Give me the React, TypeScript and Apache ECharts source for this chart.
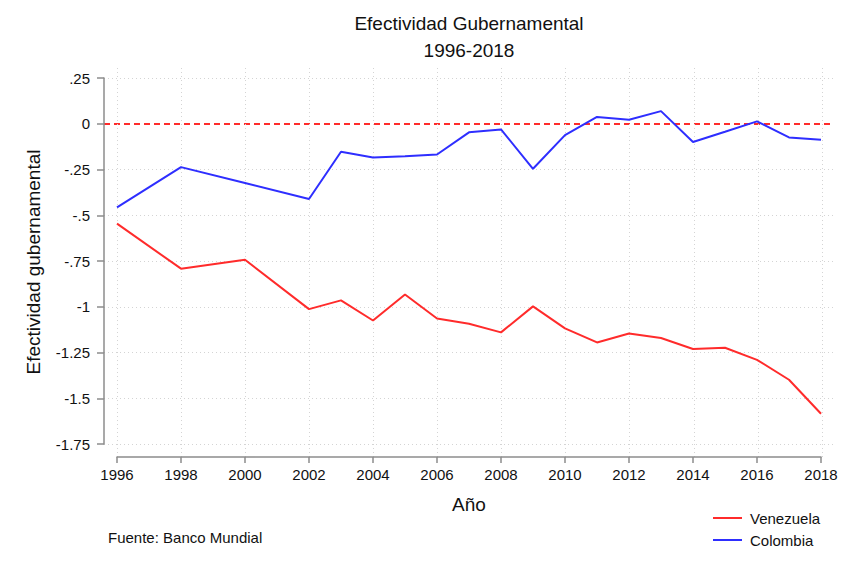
import React, { useEffect, useRef } from 'react';
import * as echarts from 'echarts';

const years = [1996, 1998, 2000, 2002, 2003, 2004, 2005, 2006, 2007, 2008, 2009, 2010, 2011, 2012, 2013, 2014, 2015, 2016, 2017, 2018];
const venezuela = [-0.546, -0.792, -0.743, -1.013, -0.965, -1.075, -0.933, -1.064, -1.093, -1.14, -0.998, -1.118, -1.195, -1.146, -1.171, -1.231, -1.224, -1.29, -1.399, -1.585];
const colombia = [-0.457, -0.237, -0.324, -0.411, -0.153, -0.184, -0.178, -0.168, -0.047, -0.031, -0.246, -0.062, 0.037, 0.022, 0.069, -0.1, -0.044, 0.013, -0.075, -0.087];
const xTicks = [1996, 1998, 2000, 2002, 2004, 2006, 2008, 2010, 2012, 2014, 2016, 2018];
const yTicks = [0.25, 0, -0.25, -0.5, -0.75, -1, -1.25, -1.5, -1.75];
const yTickLabels = ['.25', '0', '-.25', '-.5', '-.75', '-1', '-1.25', '-1.5', '-1.75'];
const seriesNames = ['Venezuela', 'Colombia'];
const titleLines = ['Efectividad Gubernamental', '1996-2018'];

const FONT = '"Liberation Sans", Arial, Helvetica, sans-serif';

export default function App() {
  const ref = useRef<HTMLDivElement>(null);
  useEffect(() => {
    if (!ref.current) return;
    const chart = echarts.init(ref.current, null, { renderer: 'svg' });
    const pxPerYear = 32;
    const pxPerUnit = 183;
    // background plot region extends beyond the data range (Stata style)
    const bgXMin = 1996 - 13 / pxPerYear;
    const bgXMax = 2018 + 12 / pxPerYear;
    const bgYMax = 0.25 + 10 / pxPerUnit;
    const bgYMin = -1.75 - 13 / pxPerUnit;
    const axisGray = '#8c8c8c';
    const hidden = {
      axisLine: { show: false, onZero: false }, axisLabel: { show: false },
      axisTick: { show: false }, splitLine: { show: false },
    };
    const option: any = {
      animation: false,
      backgroundColor: '#ffffff',
      textStyle: { fontFamily: FONT },
      grid: [
        { left: 117, top: 78, width: 704, height: 366 },          // data
        { left: 104, top: 68, right: 27, bottom: 113 },           // plot region (grid lines)
        { left: 117, top: 78, width: 704, bottom: 113 },          // x axis
        { left: 104, top: 78, width: 717, height: 366 },          // y axis
      ],
      xAxis: [
        { gridIndex: 0, type: 'value', min: 1996, max: 2018, ...hidden },
        {
          gridIndex: 1, type: 'value', min: bgXMin, max: bgXMax,
          axisLine: { show: false, onZero: false }, axisLabel: { show: false },
          axisTick: { show: false, customValues: xTicks },
          splitLine: { show: true, lineStyle: { color: '#d4d4d4', width: 1, type: [1, 3] } },
        },
        {
          gridIndex: 2, type: 'value', min: 1996, max: 2018, interval: 2, position: 'bottom',
          axisLine: { show: true, onZero: false, lineStyle: { color: axisGray, width: 1.5 } },
          axisTick: { show: true, length: 6, lineStyle: { color: axisGray, width: 1.5 } },
          axisLabel: { show: true, color: '#111', fontSize: 15, fontFamily: FONT, margin: 10, formatter: (v: number) => String(v) },
          splitLine: { show: false },
        },
        { gridIndex: 3, type: 'value', min: 1996, max: 2018, ...hidden },
      ],
      yAxis: [
        { gridIndex: 0, type: 'value', min: -1.75, max: 0.25, ...hidden },
        {
          gridIndex: 1, type: 'value', min: bgYMin, max: bgYMax,
          axisLine: { show: false, onZero: false }, axisLabel: { show: false },
          axisTick: { show: false, customValues: yTicks.filter((t) => t !== 0) },
          splitLine: { show: true, lineStyle: { color: '#d4d4d4', width: 1, type: [1, 3] } },
        },
        {
          gridIndex: 1, type: 'value', min: bgYMin, max: bgYMax,
          axisLine: { show: false, onZero: false }, axisLabel: { show: false },
          axisTick: { show: false, customValues: [0] },
          splitLine: { show: true, lineStyle: { color: '#ff2b2b', width: 2, type: [6, 4] } },
        },
        { gridIndex: 2, type: 'value', min: -1.75, max: 0.25, ...hidden },
        {
          gridIndex: 3, type: 'value', min: -1.75, max: 0.25, interval: 0.25, position: 'left',
          axisLine: { show: true, onZero: false, lineStyle: { color: axisGray, width: 1.5 } },
          axisTick: { show: true, length: 7, lineStyle: { color: axisGray, width: 1.5 } },
          axisLabel: {
            show: true, color: '#111', fontSize: 15, fontFamily: FONT, margin: 14,
            formatter: (v: number) => {
              const i = yTicks.findIndex((t) => Math.abs(t - v) < 1e-6);
              return i >= 0 ? yTickLabels[i] : '';
            },
          },
          splitLine: { show: false },
        },
      ],
      legend: {
        orient: 'vertical', left: 708, top: 504, itemGap: 4,
        icon: 'rect', itemWidth: 29, itemHeight: 2,
        data: seriesNames,
        textStyle: { fontSize: 15, color: '#111', fontFamily: FONT, lineHeight: 18, padding: [0, 0, 0, 3] },
      },
      series: [
        {
          name: seriesNames[0], type: 'line', xAxisIndex: 0, yAxisIndex: 0,
          data: years.map((y, i) => [y, venezuela[i]]),
          showSymbol: false, symbol: 'none', color: '#ff2b2b',
          lineStyle: { color: '#ff2b2b', width: 2 }, z: 5,
        },
        {
          name: seriesNames[1], type: 'line', xAxisIndex: 0, yAxisIndex: 0,
          data: years.map((y, i) => [y, colombia[i]]),
          showSymbol: false, symbol: 'none', color: '#2e2eff',
          lineStyle: { color: '#2e2eff', width: 2 }, z: 5,
        },
      ],
      graphic: [
        { type: 'text', x: 469, y: 23, style: { text: titleLines[0], font: `19px ${FONT}`, fill: '#111', align: 'center', verticalAlign: 'middle' } },
        { type: 'text', x: 469, y: 50, style: { text: titleLines[1], font: `19px ${FONT}`, fill: '#111', align: 'center', verticalAlign: 'middle' } },
        { type: 'text', x: 33, y: 262, rotation: Math.PI / 2, style: { text: 'Efectividad gubernamental', font: `19px ${FONT}`, fill: '#111', align: 'center', verticalAlign: 'middle' } },
        { type: 'text', x: 469, y: 504, style: { text: 'Año', font: `19px ${FONT}`, fill: '#111', align: 'center', verticalAlign: 'middle' } },
        { type: 'text', x: 108, y: 537, style: { text: 'Fuente: Banco Mundial', font: `15px ${FONT}`, fill: '#111', align: 'left', verticalAlign: 'middle' } },
      ],
    };
    chart.setOption(option);
    return () => chart.dispose();
  }, []);
  return <div ref={ref} style={{ position: 'absolute', left: 0, top: 0, width: 861, height: 570 }} />;
}
